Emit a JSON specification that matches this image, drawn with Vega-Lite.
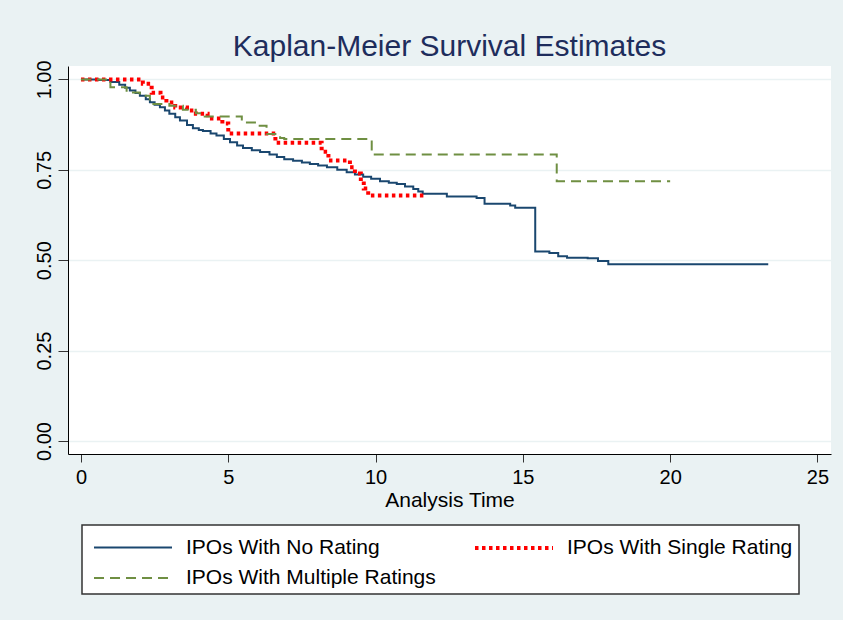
{
  "$schema": "https://vega.github.io/schema/vega-lite/v6.json",
  "autosize": {"type": "none"},
  "width": 763,
  "height": 388,
  "padding": {"left": 68, "top": 66, "right": 12, "bottom": 166},
  "background": "#eaf2f3",
  "config": {
    "font": "Liberation Sans",
    "view": {"fill": "white", "stroke": null}
  },
  "title": {
    "text": "Kaplan-Meier Survival Estimates",
    "fontSize": 30,
    "fontWeight": "normal",
    "color": "#1e2d5c",
    "anchor": "middle",
    "frame": "group",
    "baseline": "bottom",
    "offset": 4,
    "dy": 36
  },
  "data": {
    "values": [
      {"series": "IPOs With No Rating", "t": 0, "s": 1.0},
      {"series": "IPOs With No Rating", "t": 0.6, "s": 0.998},
      {"series": "IPOs With No Rating", "t": 1.0, "s": 0.993},
      {"series": "IPOs With No Rating", "t": 1.3, "s": 0.985},
      {"series": "IPOs With No Rating", "t": 1.5, "s": 0.977},
      {"series": "IPOs With No Rating", "t": 1.66, "s": 0.969},
      {"series": "IPOs With No Rating", "t": 1.85, "s": 0.962},
      {"series": "IPOs With No Rating", "t": 2.0, "s": 0.955},
      {"series": "IPOs With No Rating", "t": 2.2, "s": 0.945},
      {"series": "IPOs With No Rating", "t": 2.34, "s": 0.937},
      {"series": "IPOs With No Rating", "t": 2.5, "s": 0.93},
      {"series": "IPOs With No Rating", "t": 2.68, "s": 0.923},
      {"series": "IPOs With No Rating", "t": 2.85, "s": 0.914},
      {"series": "IPOs With No Rating", "t": 3.0, "s": 0.905},
      {"series": "IPOs With No Rating", "t": 3.2, "s": 0.895},
      {"series": "IPOs With No Rating", "t": 3.36, "s": 0.886},
      {"series": "IPOs With No Rating", "t": 3.6, "s": 0.874},
      {"series": "IPOs With No Rating", "t": 3.8, "s": 0.865},
      {"series": "IPOs With No Rating", "t": 4.0, "s": 0.86},
      {"series": "IPOs With No Rating", "t": 4.14, "s": 0.857},
      {"series": "IPOs With No Rating", "t": 4.4, "s": 0.85},
      {"series": "IPOs With No Rating", "t": 4.6, "s": 0.845},
      {"series": "IPOs With No Rating", "t": 4.85, "s": 0.835},
      {"series": "IPOs With No Rating", "t": 5.06, "s": 0.826},
      {"series": "IPOs With No Rating", "t": 5.3, "s": 0.817},
      {"series": "IPOs With No Rating", "t": 5.5, "s": 0.81},
      {"series": "IPOs With No Rating", "t": 5.8, "s": 0.804},
      {"series": "IPOs With No Rating", "t": 6.08, "s": 0.799},
      {"series": "IPOs With No Rating", "t": 6.4, "s": 0.792},
      {"series": "IPOs With No Rating", "t": 6.65, "s": 0.785},
      {"series": "IPOs With No Rating", "t": 6.9, "s": 0.779},
      {"series": "IPOs With No Rating", "t": 7.2, "s": 0.775},
      {"series": "IPOs With No Rating", "t": 7.5, "s": 0.77},
      {"series": "IPOs With No Rating", "t": 7.77, "s": 0.766},
      {"series": "IPOs With No Rating", "t": 8.05, "s": 0.762},
      {"series": "IPOs With No Rating", "t": 8.35, "s": 0.757},
      {"series": "IPOs With No Rating", "t": 8.7, "s": 0.75},
      {"series": "IPOs With No Rating", "t": 9.02, "s": 0.743},
      {"series": "IPOs With No Rating", "t": 9.3, "s": 0.737},
      {"series": "IPOs With No Rating", "t": 9.58, "s": 0.731},
      {"series": "IPOs With No Rating", "t": 9.85, "s": 0.725},
      {"series": "IPOs With No Rating", "t": 10.15, "s": 0.718},
      {"series": "IPOs With No Rating", "t": 10.45, "s": 0.714},
      {"series": "IPOs With No Rating", "t": 10.72, "s": 0.711},
      {"series": "IPOs With No Rating", "t": 11.0, "s": 0.704},
      {"series": "IPOs With No Rating", "t": 11.28, "s": 0.697},
      {"series": "IPOs With No Rating", "t": 11.45, "s": 0.69},
      {"series": "IPOs With No Rating", "t": 11.6, "s": 0.684},
      {"series": "IPOs With No Rating", "t": 12.42, "s": 0.676},
      {"series": "IPOs With No Rating", "t": 13.43, "s": 0.672},
      {"series": "IPOs With No Rating", "t": 13.7, "s": 0.656},
      {"series": "IPOs With No Rating", "t": 14.57, "s": 0.651},
      {"series": "IPOs With No Rating", "t": 14.74, "s": 0.645},
      {"series": "IPOs With No Rating", "t": 15.42, "s": 0.524},
      {"series": "IPOs With No Rating", "t": 15.9, "s": 0.52},
      {"series": "IPOs With No Rating", "t": 16.2, "s": 0.511},
      {"series": "IPOs With No Rating", "t": 16.5, "s": 0.507},
      {"series": "IPOs With No Rating", "t": 17.2, "s": 0.505},
      {"series": "IPOs With No Rating", "t": 17.55, "s": 0.498},
      {"series": "IPOs With No Rating", "t": 17.9, "s": 0.489},
      {"series": "IPOs With No Rating", "t": 23.33, "s": 0.489},
      {"series": "IPOs With Single Rating", "t": 0, "s": 1.0},
      {"series": "IPOs With Single Rating", "t": 2.1, "s": 0.988},
      {"series": "IPOs With Single Rating", "t": 2.4, "s": 0.963},
      {"series": "IPOs With Single Rating", "t": 2.7, "s": 0.95},
      {"series": "IPOs With Single Rating", "t": 2.9, "s": 0.936},
      {"series": "IPOs With Single Rating", "t": 3.2, "s": 0.922},
      {"series": "IPOs With Single Rating", "t": 3.6, "s": 0.914},
      {"series": "IPOs With Single Rating", "t": 3.9, "s": 0.905},
      {"series": "IPOs With Single Rating", "t": 4.3, "s": 0.892},
      {"series": "IPOs With Single Rating", "t": 4.8, "s": 0.878},
      {"series": "IPOs With Single Rating", "t": 5.0, "s": 0.85},
      {"series": "IPOs With Single Rating", "t": 6.6, "s": 0.825},
      {"series": "IPOs With Single Rating", "t": 8.17, "s": 0.8},
      {"series": "IPOs With Single Rating", "t": 8.4, "s": 0.776},
      {"series": "IPOs With Single Rating", "t": 9.13, "s": 0.757},
      {"series": "IPOs With Single Rating", "t": 9.3, "s": 0.74},
      {"series": "IPOs With Single Rating", "t": 9.5, "s": 0.718},
      {"series": "IPOs With Single Rating", "t": 9.6, "s": 0.698},
      {"series": "IPOs With Single Rating", "t": 9.75, "s": 0.679},
      {"series": "IPOs With Single Rating", "t": 11.7, "s": 0.679},
      {"series": "IPOs With Multiple Ratings", "t": 0, "s": 1.0},
      {"series": "IPOs With Multiple Ratings", "t": 1.0, "s": 0.978},
      {"series": "IPOs With Multiple Ratings", "t": 1.55, "s": 0.964},
      {"series": "IPOs With Multiple Ratings", "t": 2.0, "s": 0.955},
      {"series": "IPOs With Multiple Ratings", "t": 2.34, "s": 0.932},
      {"series": "IPOs With Multiple Ratings", "t": 3.0, "s": 0.927},
      {"series": "IPOs With Multiple Ratings", "t": 3.46, "s": 0.916},
      {"series": "IPOs With Multiple Ratings", "t": 3.9, "s": 0.906},
      {"series": "IPOs With Multiple Ratings", "t": 4.2, "s": 0.897},
      {"series": "IPOs With Multiple Ratings", "t": 5.46, "s": 0.881},
      {"series": "IPOs With Multiple Ratings", "t": 5.96, "s": 0.872},
      {"series": "IPOs With Multiple Ratings", "t": 6.3, "s": 0.849},
      {"series": "IPOs With Multiple Ratings", "t": 6.76, "s": 0.838},
      {"series": "IPOs With Multiple Ratings", "t": 6.9, "s": 0.835},
      {"series": "IPOs With Multiple Ratings", "t": 9.87, "s": 0.792},
      {"series": "IPOs With Multiple Ratings", "t": 16.15, "s": 0.718},
      {"series": "IPOs With Multiple Ratings", "t": 20.0, "s": 0.718}
    ]
  },
  "mark": {"type": "line", "interpolate": "step-after"},
  "encoding": {
    "x": {
      "field": "t", "type": "quantitative",
      "scale": {"domain": [-0.44, 25.46], "nice": false, "zero": false},
      "axis": {
        "title": "Analysis Time", "values": [0, 5, 10, 15, 20, 25], "format": "d",
        "grid": false, "domainColor": "#000000", "domainWidth": 1,
        "tickColor": "#333333", "tickSize": 8, "tickWidth": 1,
        "labelFontSize": 20, "labelColor": "#000000", "labelPadding": 5,
        "titleFontSize": 21, "titleFontWeight": "normal", "titleColor": "#000000", "titlePadding": 2
      }
    },
    "y": {
      "field": "s", "type": "quantitative",
      "scale": {"domain": [-0.036, 1.037], "nice": false, "zero": false},
      "axis": {
        "title": null, "values": [0, 0.25, 0.5, 0.75, 1], "format": ".2f",
        "grid": true, "gridColor": "#eaf2f3", "gridWidth": 1.5,
        "domainColor": "#000000", "domainWidth": 1,
        "tickColor": "#333333", "tickSize": 10, "tickWidth": 1,
        "labelAngle": -90, "labelAlign": "center", "labelBaseline": "bottom",
        "labelFontSize": 20, "labelColor": "#000000", "labelPadding": 4
      }
    },
    "color": {
      "field": "series", "type": "nominal",
      "scale": {
        "domain": ["IPOs With No Rating", "IPOs With Single Rating", "IPOs With Multiple Ratings"],
        "range": ["#1a476f", "#ff0000", "#6f8f42"]
      },
      "legend": {
        "title": null, "orient": "none", "legendX": 14, "legendY": 459,
        "direction": "horizontal", "columns": 2, "columnPadding": 31, "rowPadding": 4,
        "padding": 6, "fillColor": "white", "strokeColor": "#333333",
        "symbolType": "M-0.733,0H4.467", "symbolSize": 900, "symbolStrokeWidth": 2,
        "labelFontSize": 21, "labelColor": "#000000", "labelOffset": 64, "labelLimit": 400,
        "encode": {"legend": {"update": {"strokeWidth": {"value": 1.5}}}}
      }
    },
    "strokeDash": {
      "field": "series", "type": "nominal",
      "scale": {
        "domain": ["IPOs With No Rating", "IPOs With Single Rating", "IPOs With Multiple Ratings"],
        "range": [[1, 0], [3.5, 3.5], [10, 6]]
      },
      "legend": null
    },
    "strokeWidth": {
      "field": "series", "type": "nominal",
      "scale": {
        "type": "ordinal",
        "domain": ["IPOs With No Rating", "IPOs With Single Rating", "IPOs With Multiple Ratings"],
        "range": [2, 4, 2]
      },
      "legend": null
    }
  }
}
